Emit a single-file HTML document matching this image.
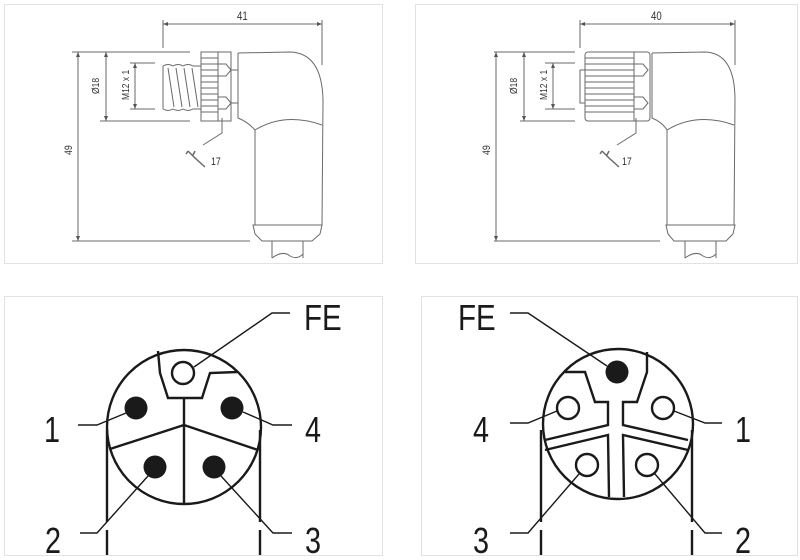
<!DOCTYPE html>
<html><head><meta charset="utf-8"><style>
html,body{margin:0;padding:0;background:#fff;}
svg{display:block;}
.t{font-family:"Liberation Sans",sans-serif;fill:#333;}
.b{font-family:"Liberation Sans",sans-serif;fill:#1a1a1a;}
</style></head><body>
<svg width="800" height="560" viewBox="0 0 800 560" xmlns="http://www.w3.org/2000/svg">
<rect x="0" y="0" width="800" height="560" fill="#fff"/>
<g fill="none" stroke="#e2e2e2" stroke-width="1">
<rect x="4.5" y="4.5" width="378" height="259"/>
<rect x="415.5" y="4.5" width="382" height="259"/>
<rect x="4.5" y="296.5" width="378" height="259"/>
<rect x="421.5" y="296.5" width="376" height="259"/>
</g>

<!-- TOP LEFT -->
<g fill="none" stroke="#6a6a6a" stroke-width="1">
<line x1="163" y1="20" x2="163" y2="48"/><line x1="322" y1="20" x2="322" y2="65"/>
<line x1="163" y1="24" x2="322" y2="24"/>
<line x1="72" y1="52" x2="190" y2="52"/><line x1="100" y1="121" x2="190" y2="121"/>
<line x1="130" y1="63" x2="155" y2="63"/><line x1="130" y1="109" x2="155" y2="109"/>
<line x1="72" y1="241" x2="250" y2="241"/>
<line x1="78" y1="52" x2="78" y2="241"/><line x1="106" y1="52" x2="106" y2="121"/><line x1="135" y1="63" x2="135" y2="109"/>
<path d="M163 66 L163 109 M163 66 Q168 63 173 66 Q178 63 183 66 Q188 63 193 66 L201 66 M163 109 Q168 112 173 109 Q178 112 183 109 Q188 112 193 109 L201 109"/>
<path d="M168 68 L174 107 M176 68 L182 107 M184 68 L190 107 M192 68 L198 107"/>
<rect x="201" y="52" width="30" height="69"/>
<line x1="218" y1="52" x2="218" y2="121"/>
<path d="M201 58 H218 M201 64 H218 M201 70 H218 M201 76 H218 M201 82 H218 M201 88 H218 M201 94 H218 M201 100 H218 M201 106 H218 M201 112 H218"/>
<path d="M218 64 H226 L231 70 L226 76 H218 M218 97 H226 L231 103 L226 109 H218"/>
<line x1="231" y1="70" x2="238" y2="70"/><line x1="231" y1="103" x2="238" y2="103"/>
<path d="M238 53 L238 118 Q248 122 255 130 L255 225 M238 53 L290 52 Q322 53 323 100 L322 225"/>
<path d="M255 130 Q285 112 322 125"/>
<path d="M253 225 L322 225 L320 234 L312 241 L262 241 L255 234 Z"/>
<path d="M272 241 L272 258 M303 241 L303 258 M272 258 Q283 250 290 256 Q297 260 303 254"/>
<path d="M222 118 L222 133 L203 145"/>
<path d="M188 151 L195 158 L205 167 M188 151 L186 154 M193 155 L195 151" stroke-width="1.5"/>
</g>
<g fill="#555">
<path d="M163 24 l5 -2 v4z M322 24 l-5 -2 v4z M78 52 l-2 5 h4z M78 241 l-2 -5 h4z M106 52 l-2 5 h4z M106 121 l-2 -5 h4z M135 63 l-2 5 h4z M135 109 l-2 -5 h4z"/>
</g>
<text class="t" font-size="12" transform="translate(237,20) scale(0.8,1)">41</text>
<text class="t" font-size="11" transform="translate(211,165) scale(0.8,1)">17</text>
<text class="t" font-size="11" transform="translate(72,155) rotate(-90) scale(0.8,1)">49</text>
<text class="t" font-size="10" transform="translate(99,94) rotate(-90) scale(0.85,1)">Ø18</text>
<text class="t" font-size="10" transform="translate(129,100) rotate(-90) scale(0.85,1)">M12 x 1</text>

<!-- TOP RIGHT -->
<g fill="none" stroke="#6a6a6a" stroke-width="1">
<line x1="580" y1="20" x2="580" y2="48"/><line x1="735" y1="20" x2="735" y2="65"/>
<line x1="580" y1="24" x2="735" y2="24"/>
<line x1="494" y1="52" x2="575" y2="52"/><line x1="520" y1="121" x2="575" y2="121"/>
<line x1="545" y1="63" x2="575" y2="63"/><line x1="545" y1="109" x2="575" y2="109"/>
<line x1="494" y1="241" x2="660" y2="241"/>
<line x1="496" y1="52" x2="496" y2="241"/><line x1="524" y1="52" x2="524" y2="121"/><line x1="553" y1="63" x2="553" y2="109"/>
<rect x="580" y="70" width="5" height="33"/>
<rect x="585" y="52" width="65" height="69" rx="3"/>
<line x1="634" y1="52" x2="634" y2="121"/>
<path d="M585 58 H634 M585 64 H634 M585 70 H634 M585 76 H634 M585 82 H634 M585 88 H634 M585 94 H634 M585 100 H634 M585 106 H634 M585 112 H634"/>
<path d="M634 64 H643 L648 70 L643 76 H634 M634 97 H643 L648 103 L643 109 H634"/>
<path d="M652 53 L652 118 Q662 122 667 130 L667 225 M652 53 L705 52 Q735 53 735 100 L734 225"/>
<path d="M667 130 Q697 112 734 125"/>
<path d="M666 225 L735 225 L733 234 L726 241 L674 241 L668 234 Z"/>
<path d="M685 241 L685 258 M716 241 L716 258 M685 258 Q696 250 703 256 Q710 260 716 254"/>
<path d="M636 118 L636 133 L617 145"/>
<path d="M602 151 L609 158 L619 167 M602 151 L600 154 M607 155 L609 151" stroke-width="1.5"/>
</g>
<g fill="#555">
<path d="M580 24 l5 -2 v4z M735 24 l-5 -2 v4z M496 52 l-2 5 h4z M496 241 l-2 -5 h4z M524 52 l-2 5 h4z M524 121 l-2 -5 h4z M553 63 l-2 5 h4z M553 109 l-2 -5 h4z"/>
</g>
<text class="t" font-size="12" transform="translate(651,20) scale(0.8,1)">40</text>
<text class="t" font-size="11" transform="translate(622,165) scale(0.8,1)">17</text>
<text class="t" font-size="11" transform="translate(490,155) rotate(-90) scale(0.8,1)">49</text>
<text class="t" font-size="10" transform="translate(517,94) rotate(-90) scale(0.85,1)">Ø18</text>
<text class="t" font-size="10" transform="translate(547,100) rotate(-90) scale(0.85,1)">M12 x 1</text>

<!-- BOTTOM LEFT -->
<g fill="none" stroke="#1a1a1a" stroke-width="2.4">
<circle cx="184" cy="427" r="77"/>
<path d="M158 351 L160 373 L168 398 L202 398 L210 373 L237 372"/>
<line x1="184" y1="398" x2="184" y2="503"/>
<path d="M110 449 L184 425 L258 450"/>
<circle cx="183" cy="373" r="11"/>
<line x1="107" y1="430" x2="107" y2="522"/><line x1="107" y1="530" x2="107" y2="555"/>
<line x1="260" y1="430" x2="260" y2="522"/><line x1="260" y1="530" x2="260" y2="555"/>
</g>
<g fill="#1a1a1a">
<circle cx="136" cy="408" r="11.5"/><circle cx="232" cy="408" r="11.5"/>
<circle cx="155" cy="467" r="11.5"/><circle cx="214" cy="467" r="11.5"/>
</g>
<g fill="none" stroke="#1a1a1a" stroke-width="1.4">
<path d="M290 313 L272 313 L194 367"/>
<path d="M78 425 L97 425 L126 413"/>
<path d="M292 425 L273 425 L243 412"/>
<path d="M80 533 L97 533 L148 476"/>
<path d="M292 533 L273 533 L221 476"/>
</g>
<g class="b" font-size="36">
<text transform="translate(304,330) scale(0.82,1)">FE</text>
<text transform="translate(44,442) scale(0.8,1)">1</text>
<text transform="translate(305,442) scale(0.8,1)">4</text>
<text transform="translate(45,553) scale(0.8,1)">2</text>
<text transform="translate(305,553) scale(0.8,1)">3</text>
</g>

<!-- BOTTOM RIGHT -->
<g fill="none" stroke="#1a1a1a" stroke-width="2.4">
<circle cx="618" cy="424" r="75"/>
<path d="M565 372 L585 372 L595 402 L608 402 L608 425 L545 440 M545 450 L608 435 L609 497"/>
<path d="M624 497 L623 435 L688 450 M688 440 L623 425 L623 402 L637 402 L647 372 L647 352"/>
<circle cx="568" cy="408" r="11"/><circle cx="663" cy="408" r="11"/>
<circle cx="587" cy="465" r="11"/><circle cx="647" cy="465" r="11"/>
<line x1="541" y1="430" x2="541" y2="522"/><line x1="541" y1="530" x2="541" y2="555"/>
<line x1="692" y1="430" x2="692" y2="522"/><line x1="692" y1="530" x2="692" y2="555"/>
</g>
<circle cx="617" cy="372" r="11.5" fill="#1a1a1a"/>
<g fill="none" stroke="#1a1a1a" stroke-width="1.4">
<path d="M510 313 L528 313 L607 366"/>
<path d="M510 423 L528 423 L557 411"/>
<path d="M722 423 L705 423 L674 411"/>
<path d="M510 533 L528 533 L579 474"/>
<path d="M722 533 L705 533 L655 474"/>
</g>
<g class="b" font-size="36">
<text transform="translate(458,330) scale(0.82,1)">FE</text>
<text transform="translate(473,442) scale(0.8,1)">4</text>
<text transform="translate(735,442) scale(0.8,1)">1</text>
<text transform="translate(473,553) scale(0.8,1)">3</text>
<text transform="translate(735,553) scale(0.8,1)">2</text>
</g>
</svg>
</body></html>
